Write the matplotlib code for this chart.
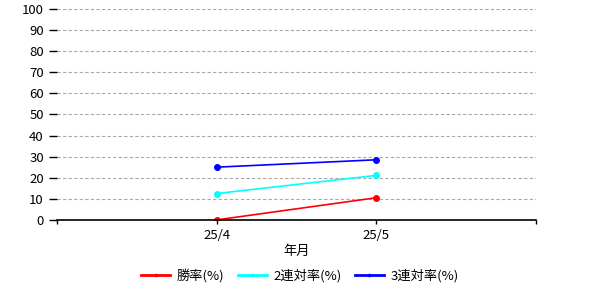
import matplotlib.pyplot as plt

plt.rcParams['font.family'] = ['Noto Sans CJK JP', 'DejaVu Sans']

months = ['25/4', '25/5']
win_rate = [0.0, 10.5]
top2_rate = [12.5, 21.1]
top3_rate = [25.0, 28.5]

fig = plt.figure(figsize=(6, 3), dpi=100)
ax = fig.add_axes([0.095, 0.267, 0.798, 0.703])

x = [1, 2]
ax.plot(x, win_rate, color='red', marker='o', markersize=4, linewidth=1.2, label='勝率(%)')
ax.plot(x, top2_rate, color='cyan', marker='o', markersize=4, linewidth=1.2, label='2連対率(%)')
ax.plot(x, top3_rate, color='blue', marker='o', markersize=4, linewidth=1.2, label='3連対率(%)')

ax.set_xlim(0, 3)
ax.set_ylim(0, 100)
ax.set_xticks([0, 1, 2, 3])
ax.set_xticklabels(['', months[0], months[1], ''])
ax.set_yticks(range(0, 101, 10))
ax.tick_params(axis='both', labelsize=9.5, length=3, width=1, colors='black')
ax.tick_params(axis='y', length=6)

for y in range(10, 101, 10):
    ax.axhline(y, color='#a9a9a9', linestyle=(0, (3, 2)), linewidth=0.8, zorder=0)

for side in ['top', 'right', 'left']:
    ax.spines[side].set_visible(False)
ax.spines['bottom'].set_linewidth(1.2)

ax.set_xlabel('年月', fontsize=9.5, labelpad=2)

leg = fig.legend(loc='center', bbox_to_anchor=(0.5, 0.08), ncol=3, frameon=False,
                 fontsize=9.5, handlelength=2.2, markerscale=0.4, columnspacing=1.0,
                 handletextpad=0.5)
for line in leg.get_lines():
    line.set_linewidth(2)

fig.savefig('out.png', dpi=100)
